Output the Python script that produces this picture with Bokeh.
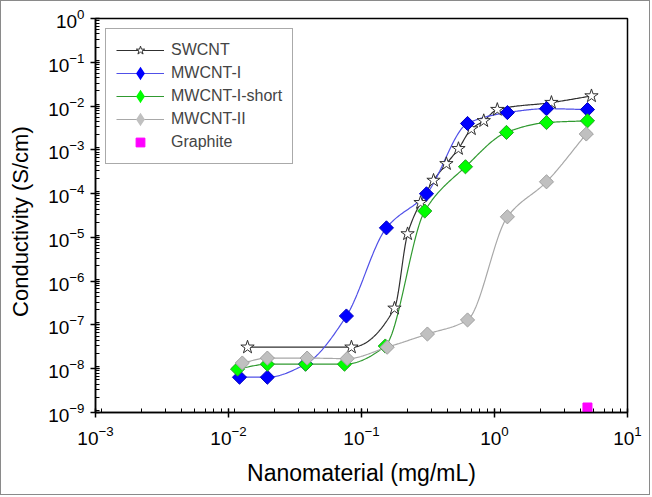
import numpy as np
from bokeh.plotting import figure
from bokeh.models import LogTicker, Legend, LegendItem
from bokeh.embed import file_html
from bokeh.resources import INLINE

# ---- data ----
sw_x = [0.0139, 0.084, 0.177, 0.222, 0.278, 0.348, 0.435, 0.536, 0.67, 0.83, 1.05, 2.68, 5.36]
sw_y = [3.1e-8, 3.1e-8, 2.4e-7, 1.2e-5, 6.2e-5, 2.0e-4, 4.8e-4, 1.06e-3, 3.0e-3, 4.6e-3, 8.3e-3, 1.2e-2, 1.7e-2]

m1_x = [0.0121, 0.0196, 0.038, 0.077, 0.154, 0.308, 0.627, 1.25, 2.46, 5.0]
m1_y = [6.4e-9, 6.4e-9, 1.28e-8, 1.6e-7, 1.65e-5, 9.9e-5, 4.0e-3, 7.1e-3, 8.7e-3, 8.3e-3]

ms_x = [0.0117, 0.0196, 0.038, 0.0745, 0.151, 0.299, 0.605, 1.23, 2.46, 5.0]
ms_y = [9.8e-9, 1.27e-8, 1.27e-8, 1.27e-8, 3.3e-8, 4.0e-5, 4.1e-4, 2.5e-3, 4.2e-3, 4.6e-3]

m2_x = [0.0127, 0.0196, 0.039, 0.078, 0.156, 0.313, 0.627, 1.25, 2.46, 4.9]
m2_y = [1.35e-8, 1.75e-8, 1.75e-8, 1.7e-8, 3.1e-8, 6.2e-8, 1.3e-7, 2.95e-5, 1.86e-4, 2.3e-3]

gr_x = [5.0]
gr_y = [1.3e-9]


def smooth(xs, ys, n=300):
    """Monotone cubic (PCHIP) curve through the points, in log-log space."""
    x = np.log10(np.asarray(xs, float))
    y = np.log10(np.asarray(ys, float))
    h = np.diff(x)
    d = np.diff(y) / h
    m = np.zeros_like(x)
    for k in range(1, len(x) - 1):
        if d[k - 1] * d[k] > 0:
            w1 = 2 * h[k] + h[k - 1]
            w2 = h[k] + 2 * h[k - 1]
            m[k] = (w1 + w2) / (w1 / d[k - 1] + w2 / d[k])
    m[0] = d[0]
    m[-1] = d[-1]
    xn = np.linspace(x[0], x[-1], n)
    idx = np.clip(np.searchsorted(x, xn) - 1, 0, len(x) - 2)
    t = (xn - x[idx]) / h[idx]
    h00 = 2 * t**3 - 3 * t**2 + 1
    h10 = t**3 - 2 * t**2 + t
    h01 = -2 * t**3 + 3 * t**2
    h11 = t**3 - t**2
    yn = h00 * y[idx] + h10 * h[idx] * m[idx] + h01 * y[idx + 1] + h11 * h[idx] * m[idx + 1]
    return 10**xn, 10**yn


FONT = "Liberation Sans"

p = figure(width=650, height=495, x_axis_type="log", y_axis_type="log",
           x_range=(1e-3, 10), y_range=(1e-9, 1),
           output_backend="svg", toolbar_location=None,
           min_border_left=94, min_border_right=24, min_border_top=17, min_border_bottom=84)
p.styles = {"border": "1px solid #8a8a8a"}

p.xgrid.visible = False
p.ygrid.visible = False
p.outline_line_color = "black"
p.outline_line_width = 1.5

for ax in (p.xaxis[0], p.yaxis[0]):
    ax.ticker = LogTicker(num_minor_ticks=9)
    ax.axis_line_width = 1.5
    ax.major_tick_line_width = 1.5
    ax.major_tick_in = 4
    ax.major_tick_out = 5
    ax.minor_tick_in = 4
    ax.minor_tick_out = 0
    ax.major_label_text_font = FONT
    ax.major_label_text_font_size = "19px"
    ax.major_label_text_color = "black"
    ax.axis_label_text_font = FONT
    ax.axis_label_text_font_style = "normal"
    ax.axis_label_text_color = "black"

p.xaxis.axis_label = "Nanomaterial (mg/mL)"
p.yaxis.axis_label = "Conductivity (S/cm)" + "\u00a0" * 2
p.xaxis.axis_label_text_font_size = "23px"
p.yaxis.axis_label_text_font_size = "22px"
p.xaxis.major_label_standoff = 8
p.yaxis.major_label_standoff = 6
p.xaxis.axis_label_standoff = 12
p.yaxis.axis_label_standoff = 12

series = [
    ("SWCNT", sw_x, sw_y, "#303030", "star", "white", "#303030", 14, 0),
    ("MWCNT-I", m1_x, m1_y, "#5050e8", "square", "#0000ff", "#0000c0", 10, np.pi / 4),
    ("MWCNT-I-short", ms_x, ms_y, "#309a30", "square", "#00ff00", "#20a020", 10, np.pi / 4),
    ("MWCNT-II", m2_x, m2_y, "#a8a8a8", "square", "#c0c0c0", "#a0a0a0", 10, np.pi / 4),
]

lines = {}
for name, xs, ys, lc, mk, fc, ec, sz, ang in series:
    cx, cy = smooth(xs, ys)
    lines[name] = p.line(cx, cy, line_color=lc, line_width=1.2)

marks = {}
proxies = {}
for name, xs, ys, lc, mk, fc, ec, sz, ang in series:
    marks[name] = p.scatter(xs, ys, marker=mk, size=sz, angle=ang,
                            fill_color=fc, line_color=ec, line_width=1)
    # legend-only key (diamond shape), not drawn on the plot
    if mk == "star":
        proxies[name] = p.scatter(xs[:1], ys[:1], marker="star", size=sz,
                                  fill_color=fc, line_color=ec, line_width=1, visible=False)
    else:
        proxies[name] = p.scatter(xs[:1], ys[:1], marker="diamond", size=sz,
                                  fill_color=fc, line_color=fc, line_width=2.5,
                                  line_join="miter", visible=False)

gr = p.scatter(gr_x, gr_y, marker="square", size=9, fill_color="#ff00ff", line_color="#ff00ff")

items = [LegendItem(label=name, renderers=[lines[name], proxies[name]]) for name, *_ in series]
items.append(LegendItem(label="Graphite", renderers=[gr]))

legend = Legend(items=items, location="top_left")
legend.margin = 10
legend.padding = 10
legend.spacing = 1
legend.glyph_width = 48
legend.glyph_height = 22
legend.label_height = 20
legend.label_standoff = 7
legend.label_text_font = FONT
legend.label_text_font_size = "16px"
legend.border_line_color = "#555555"
legend.border_line_width = 1
legend.background_fill_alpha = 1
legend.inactive_fill_alpha = 0
legend.click_policy = "none"
p.add_layout(legend, "center")

open("out.html", "w").write(file_html(p, INLINE))
